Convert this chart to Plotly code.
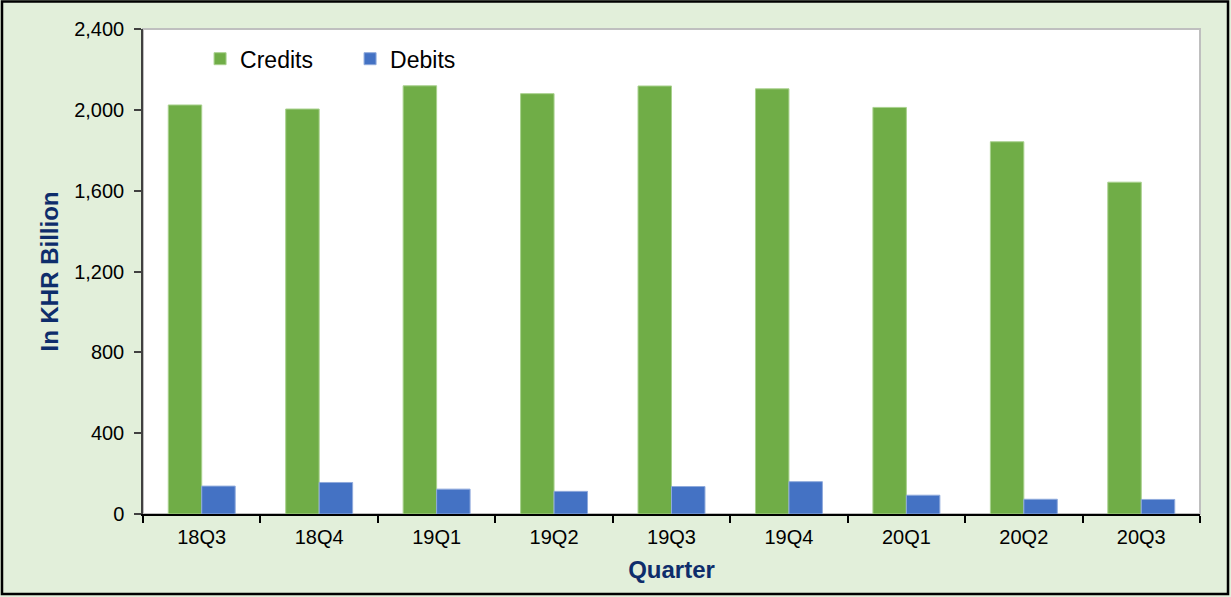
import plotly.graph_objects as go

# --- Data ---
quarters = ["18Q3", "18Q4", "19Q1", "19Q2", "19Q3", "19Q4", "20Q1", "20Q2", "20Q3"]
credits = [2024, 2004, 2119, 2080, 2118, 2104, 2012, 1842, 1642]
debits = [138, 156, 123, 112, 136, 160, 93, 73, 72]

y_ticks = [0, 400, 800, 1200, 1600, 2000, 2400]

FONT = "Arial, Liberation Sans, sans-serif"
NAVY = "#0E2D6B"
BG = "#E2EFDA"

fig = go.Figure()

fig.add_trace(go.Bar(
    x=quarters, y=credits, name="Credits",
    marker=dict(color="#70AD47", line=dict(color="#A9D18E", width=1)),
))
fig.add_trace(go.Bar(
    x=quarters, y=debits, name="Debits",
    marker=dict(color="#4472C4", line=dict(color="#8FAADC", width=1)),
))

# plot area light border (right/top) and outer chart border
fig.add_shape(type="rect", xref="paper", yref="paper", x0=0, x1=1, y0=0, y1=1,
              line=dict(color="#BFBFBF", width=2), layer="below")
fig.add_shape(type="rect", xref="paper", yref="paper",
              x0=-0.1334, x1=1.0265, y0=-0.165, y1=1.0567,
              line=dict(color="#000000", width=2.5))

fig.update_layout(
    width=1231, height=597,
    margin=dict(l=143, r=31, t=29, b=83),
    paper_bgcolor=BG,
    plot_bgcolor="white",
    barmode="group",
    bargap=0.43,
    bargroupgap=0,
    font=dict(family=FONT, size=20, color="#000000"),
    showlegend=True,
    legend=dict(
        orientation="h", x=0.054, y=0.983, xanchor="left", yanchor="top",
        bgcolor="rgba(0,0,0,0)", font=dict(size=23, color="#000000"),
        entrywidth=105, entrywidthmode="pixels", traceorder="normal",
    ),
    xaxis=dict(
        title=dict(text="<b>Quarter</b>", font=dict(size=24, color=NAVY), standoff=14),
        showline=True, linecolor="#000000", linewidth=2,
        ticks="outside", tickson="boundaries", ticklen=7, tickwidth=2, tickcolor="#000000",
        showgrid=False, tickfont=dict(size=20), ticklabelstandoff=4,
    ),
    yaxis=dict(
        title=dict(text="<b>In KHR Billion</b>", font=dict(size=24, color=NAVY), standoff=9),
        range=[0, 2400], tickvals=y_ticks, tickformat=",",
        showline=True, linecolor="#404040", linewidth=1.5,
        ticks="outside", ticklen=7, tickwidth=1.5, tickcolor="#404040",
        showgrid=False, zeroline=False, tickfont=dict(size=20), ticklabelstandoff=6,
    ),
)

# drop the default page margin so the chart fills the window
fig.write_html("out.html", config={"displayModeBar": False},
               post_script="document.body.style.margin='0';")
